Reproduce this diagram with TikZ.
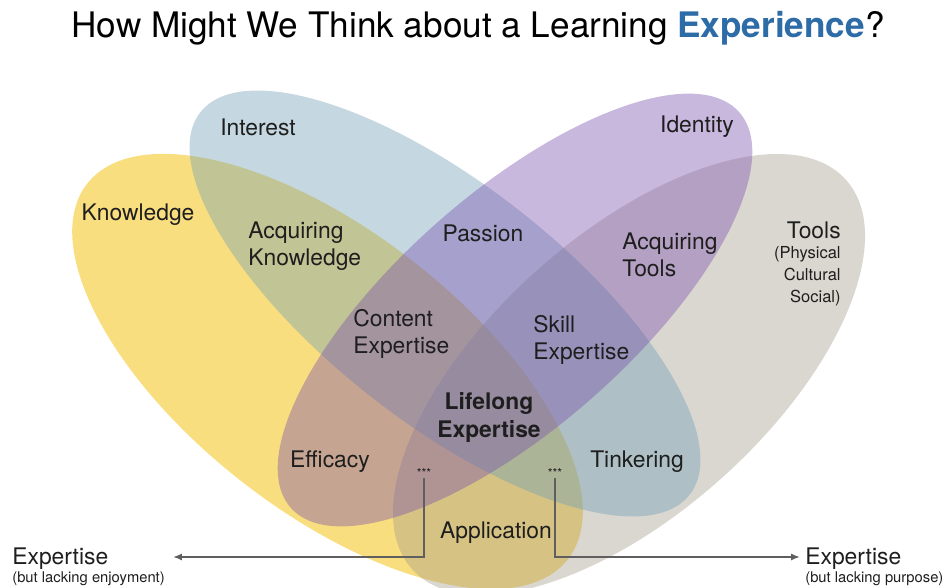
\documentclass[tikz,border=0pt]{standalone}
\usepackage{fontspec}
\setmainfont{TeX Gyre Heros}
\usetikzlibrary{arrows.meta}

\definecolor{knowyellow}{RGB}{249,222,128}
\definecolor{toolsgrey}{RGB}{163,155,138}
\definecolor{interestblue}{RGB}{110,158,180}
\definecolor{identitypurple}{RGB}{120,78,173}
\definecolor{titleblue}{RGB}{46,108,168}
\definecolor{labeltext}{RGB}{30,30,30}
\definecolor{leadergrey}{RGB}{95,95,95}

\begin{document}
\begin{tikzpicture}[
    lbl/.style={text=labeltext, inner sep=0pt, font=\fontsize{13}{15.4}\selectfont},
    note/.style={text=labeltext, inner sep=0pt, font=\fontsize{8.4}{10}\selectfont},
    stars/.style={text=labeltext, inner sep=0pt, font=\fontsize{7}{8}\selectfont},
    glass/.style={fill opacity=0.4},
    leader/.style={draw=leadergrey, line width=1.1pt, -{Latex[length=5pt,width=4pt]}}
  ]
  \useasboundingbox (0,0) rectangle (18.9,11.76);

  % the four sets; yellow at the bottom, the rest see-through on top
  \begin{scope}
    \clip (0,0) rectangle (18.9,11.76);
    \fill[knowyellow] (6.55,4.33) ellipse [x radius=6.10, y radius=2.79, rotate=-38];
    \fill[toolsgrey, glass] (12.58,4.27) ellipse [x radius=5.83, y radius=2.78, rotate=41.9];
    \fill[interestblue, glass] (8.90,5.69) ellipse [x radius=6.21, y radius=2.38, rotate=-38];
    \fill[identitypurple, glass] (10.30,5.56) ellipse [x radius=5.98, y radius=2.34, rotate=41.4];
  \end{scope}

  \node[text=black, font=\fontsize{20}{24}\selectfont] (title) at (9.56,11.2)
    {How Might We Think about a Learning \textbf{\color{titleblue}Experience}?};

  % set names
  \node[lbl] (interest) at (5.16,9.22) {Interest};
  \node[lbl] (identity) at (13.94,9.22) {Identity};
  \node[lbl] (knowledge) at (2.76,7.46) {Knowledge};
  \node[lbl, anchor=north east, align=right, font=\fontsize{9.4}{12.3}\selectfont] (tools) at (16.82,7.32)
    {{\fontsize{13}{15.4}\selectfont Tools}\\[-1pt](Physical\\Cultural\\Social)};

  % overlaps
  \node[lbl, anchor=west, align=left] (acqknow) at (4.96,6.83) {Acquiring\\Knowledge};
  \node[lbl] (passion) at (9.66,7.10) {Passion};
  \node[lbl, anchor=west, align=left] (acqtools) at (12.44,6.66) {Acquiring\\Tools};
  \node[lbl, anchor=west, align=left] (content) at (7.06,5.09) {Content\\Expertise};
  \node[lbl, anchor=west, align=left] (skill) at (10.66,4.96) {Skill\\Expertise};
  \node[lbl, align=center, font=\fontsize{13}{15.4}\selectfont\bfseries] (lifelong) at (9.78,3.41) {Lifelong\\Expertise};
  \node[lbl] (efficacy) at (6.60,2.52) {Efficacy};
  \node[lbl] (tinkering) at (12.74,2.52) {Tinkering};
  \node[lbl] (application) at (9.92,1.10) {Application};

  % the two ways out
  \node[stars] (starsL) at (8.48,2.30) {***};
  \node[stars] (starsR) at (11.10,2.30) {***};
  \coordinate (tipL) at (3.46,0.62);
  \coordinate (tipR) at (16.00,0.62);
  \draw[leader] (starsL.south) |- (tipL);
  \draw[leader] (starsR.south) |- (tipR);

  \node[lbl, anchor=base west] (expL) at (0.24,0.46) {Expertise};
  \node[note, anchor=base west] (expLnote) at (0.24,0.10) {(but lacking enjoyment)};
  \node[lbl, anchor=base west] (expR) at (16.10,0.46) {Expertise};
  \node[note, anchor=base west] (expRnote) at (16.10,0.10) {(but lacking purpose)};
\end{tikzpicture}
\end{document}
